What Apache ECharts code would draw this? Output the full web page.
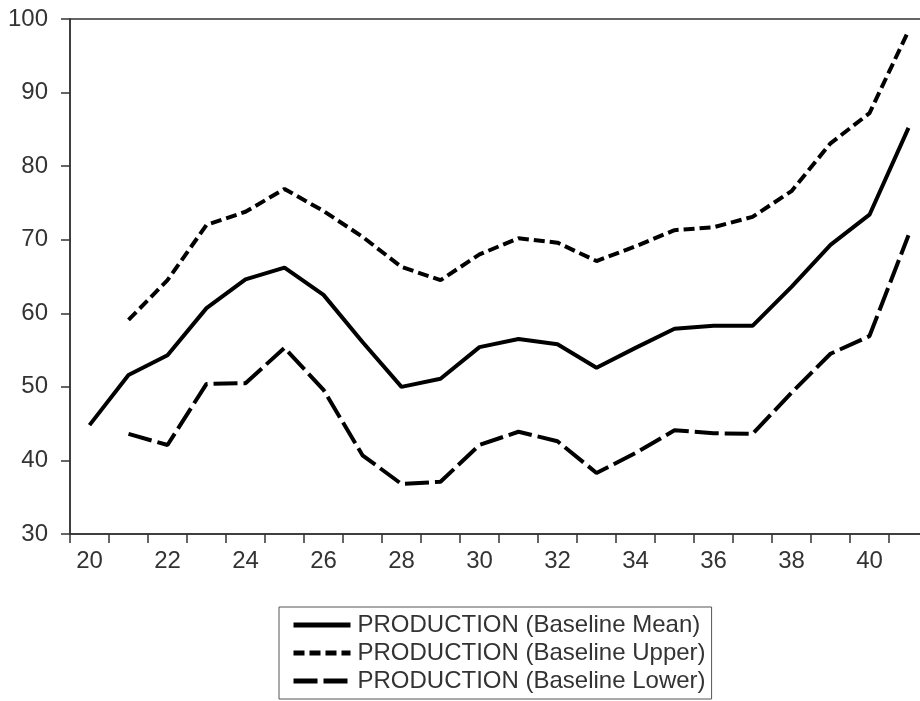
<!DOCTYPE html>
<html>
<head>
<meta charset="utf-8">
<script src="https://cdn.jsdelivr.net/npm/echarts@6/dist/echarts.min.js"></script>
<style>
html,body{margin:0;padding:0;background:#fff;}
#chart{width:920px;height:701px;}
</style>
</head>
<body>
<div id="chart"></div>
<script>
var categories = ['20','21','22','23','24','25','26','27','28','29','30','31','32','33','34','35','36','37','38','39','40','41'];
var meanValues = [44.8, 51.6, 54.3, 60.7, 64.6, 66.2, 62.5, 56.1, 50.0, 51.1, 55.4, 56.5, 55.8, 52.6, 55.3, 57.9, 58.3, 58.3, 63.6, 69.3, 73.4, 85.2];
var upperValues = [null, 59.1, 64.5, 72.0, 73.8, 76.9, 73.9, 70.4, 66.3, 64.5, 68.0, 70.2, 69.6, 67.1, 69.1, 71.3, 71.7, 73.1, 76.6, 83.1, 87.2, 98.4];
var lowerValues = [null, 43.6, 42.1, 50.4, 50.5, 55.3, 49.6, 40.7, 36.8, 37.1, 42.1, 43.9, 42.6, 38.3, 41.0, 44.1, 43.7, 43.6, 49.2, 54.5, 56.9, 70.6];
var seriesNames = ['PRODUCTION (Baseline Mean)', 'PRODUCTION (Baseline Upper)', 'PRODUCTION (Baseline Lower)'];
var yTicks = {min: 30, max: 100, interval: 10};

var font = 'Liberation Sans, Arial, sans-serif';
var chart = echarts.init(document.getElementById('chart'), null, {renderer: 'canvas'});
chart.setOption({
  animation: false,
  backgroundColor: '#fff',
  grid: {
    left: 70, top: 19, bottom: 167, width: 858,
    outerBoundsMode: 'none', containLabel: false,
    show: true, borderColor: '#333', borderWidth: 1.5, backgroundColor: 'transparent'
  },
  xAxis: {
    type: 'category',
    data: categories,
    boundaryGap: true,
    axisLine: {lineStyle: {color: '#333', width: 1.5}},
    axisTick: {show: true, interval: 0, length: 9, inside: false, lineStyle: {color: '#333', width: 1.5}},
    axisLabel: {interval: 1, margin: 15, fontSize: 24, color: '#333', fontFamily: font},
    splitLine: {show: false}
  },
  yAxis: {
    type: 'value',
    min: yTicks.min, max: yTicks.max, interval: yTicks.interval,
    axisLine: {show: true, lineStyle: {color: '#333', width: 1.5}},
    axisTick: {show: true, length: 9, lineStyle: {color: '#333', width: 1.5}},
    axisLabel: {margin: 22, fontSize: 24, color: '#333', fontFamily: font},
    splitLine: {show: false}
  },
  legend: {
    orient: 'vertical',
    left: 279, top: 607,
    padding: [6, 6, 6, 12],
    itemGap: 4,
    itemWidth: 57, itemHeight: 14,
    borderColor: '#555', borderWidth: 1,
    itemStyle: {opacity: 0},
    lineStyle: {width: 5, opacity: 1},
    textStyle: {fontSize: 24, lineHeight: 24, color: '#333', fontFamily: font, padding: [0,0,0,2]},
    data: seriesNames
  },
  series: [
    {name: seriesNames[0], type: 'line', data: meanValues, symbol: 'none',
      lineStyle: {color: '#000', width: 4, type: 'solid'}, itemStyle: {color: '#000'}},
    {name: seriesNames[1], type: 'line', data: upperValues, symbol: 'none',
      lineStyle: {color: '#000', width: 4, type: [11, 5]}, itemStyle: {color: '#000'}},
    {name: seriesNames[2], type: 'line', data: lowerValues, symbol: 'none',
      lineStyle: {color: '#000', width: 4, type: [24, 6]}, itemStyle: {color: '#000'}}
  ]
});
</script>
</body>
</html>
